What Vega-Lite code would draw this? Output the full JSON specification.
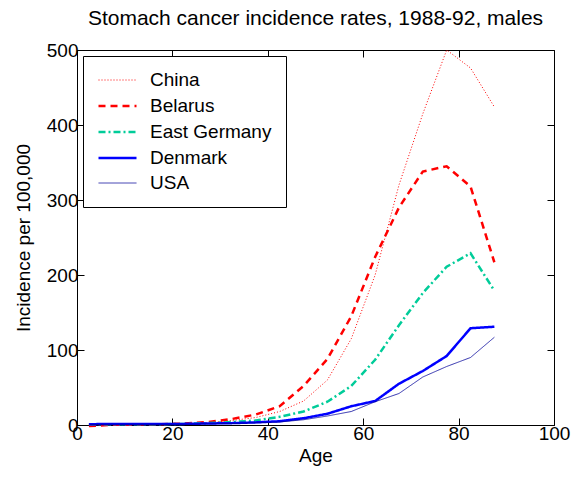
{
  "$schema": "https://vega.github.io/schema/vega-lite/v6.json",
  "width": 477,
  "height": 375,
  "autosize": {"type": "none"},
  "padding": {"left": 77, "top": 50, "right": 18, "bottom": 54},
  "background": "white",
  "config": {
    "font": "Liberation Sans",
    "view": {"stroke": "black", "strokeWidth": 1},
    "axis": {
      "grid": false,
      "domainColor": "black",
      "tickColor": "black",
      "tickSize": -7,
      "tickWidth": 1,
      "labelFont": "Liberation Sans",
      "labelFontSize": 19,
      "labelColor": "black",
      "titleFont": "Liberation Sans",
      "titleFontSize": 19,
      "titleFontWeight": "normal",
      "titleColor": "black"
    },
    "legend": {
      "orient": "none",
      "legendX": 6,
      "legendY": 6,
      "fillColor": "white",
      "strokeColor": "black",
      "padding": 14,
      "symbolType": "M-1,0H3",
      "symbolSize": 361,
      "labelFont": "Liberation Sans",
      "labelFontSize": 19,
      "labelColor": "black",
      "labelOffset": 31,
      "rowPadding": 5,
      "symbolOpacity": 1
    }
  },
  "title": {
    "text": "Stomach cancer incidence rates, 1988-92, males",
    "font": "Liberation Sans",
    "fontSize": 21,
    "fontWeight": "normal",
    "color": "black",
    "anchor": "middle",
    "offset": 12
  },
  "data": {
    "values": [
      {"age": 2.5, "country": "China", "rate": 0.2},
      {"age": 7.5, "country": "China", "rate": 0.3},
      {"age": 12.5, "country": "China", "rate": 0.5},
      {"age": 17.5, "country": "China", "rate": 0.8},
      {"age": 22.5, "country": "China", "rate": 1.5},
      {"age": 27.5, "country": "China", "rate": 3},
      {"age": 32.5, "country": "China", "rate": 6},
      {"age": 37.5, "country": "China", "rate": 10},
      {"age": 42.5, "country": "China", "rate": 18},
      {"age": 47.5, "country": "China", "rate": 32},
      {"age": 52.5, "country": "China", "rate": 60},
      {"age": 57.5, "country": "China", "rate": 115},
      {"age": 62.5, "country": "China", "rate": 200},
      {"age": 67.5, "country": "China", "rate": 320},
      {"age": 72.5, "country": "China", "rate": 415},
      {"age": 77.5, "country": "China", "rate": 500},
      {"age": 82.5, "country": "China", "rate": 476},
      {"age": 87.5, "country": "China", "rate": 424},
      {"age": 2.5, "country": "Belarus", "rate": -1.5},
      {"age": 7.5, "country": "Belarus", "rate": 0.3},
      {"age": 12.5, "country": "Belarus", "rate": 0.5},
      {"age": 17.5, "country": "Belarus", "rate": 1},
      {"age": 22.5, "country": "Belarus", "rate": 2},
      {"age": 27.5, "country": "Belarus", "rate": 4},
      {"age": 32.5, "country": "Belarus", "rate": 8},
      {"age": 37.5, "country": "Belarus", "rate": 14},
      {"age": 42.5, "country": "Belarus", "rate": 25},
      {"age": 47.5, "country": "Belarus", "rate": 52},
      {"age": 52.5, "country": "Belarus", "rate": 88},
      {"age": 57.5, "country": "Belarus", "rate": 145},
      {"age": 62.5, "country": "Belarus", "rate": 224},
      {"age": 67.5, "country": "Belarus", "rate": 290},
      {"age": 72.5, "country": "Belarus", "rate": 338},
      {"age": 77.5, "country": "Belarus", "rate": 345},
      {"age": 82.5, "country": "Belarus", "rate": 318},
      {"age": 87.5, "country": "Belarus", "rate": 217},
      {"age": 2.5, "country": "East Germany", "rate": 1},
      {"age": 7.5, "country": "East Germany", "rate": 1},
      {"age": 12.5, "country": "East Germany", "rate": 1},
      {"age": 17.5, "country": "East Germany", "rate": 1},
      {"age": 22.5, "country": "East Germany", "rate": 1.5},
      {"age": 27.5, "country": "East Germany", "rate": 2.5},
      {"age": 32.5, "country": "East Germany", "rate": 4},
      {"age": 37.5, "country": "East Germany", "rate": 6},
      {"age": 42.5, "country": "East Germany", "rate": 11},
      {"age": 47.5, "country": "East Germany", "rate": 18},
      {"age": 52.5, "country": "East Germany", "rate": 31},
      {"age": 57.5, "country": "East Germany", "rate": 52},
      {"age": 62.5, "country": "East Germany", "rate": 87},
      {"age": 67.5, "country": "East Germany", "rate": 133},
      {"age": 72.5, "country": "East Germany", "rate": 176},
      {"age": 77.5, "country": "East Germany", "rate": 211},
      {"age": 82.5, "country": "East Germany", "rate": 229},
      {"age": 87.5, "country": "East Germany", "rate": 179},
      {"age": 2.5, "country": "Denmark", "rate": 1},
      {"age": 7.5, "country": "Denmark", "rate": 1.5},
      {"age": 12.5, "country": "Denmark", "rate": 1.5},
      {"age": 17.5, "country": "Denmark", "rate": 1.5},
      {"age": 22.5, "country": "Denmark", "rate": 1.5},
      {"age": 27.5, "country": "Denmark", "rate": 2},
      {"age": 32.5, "country": "Denmark", "rate": 2.5},
      {"age": 37.5, "country": "Denmark", "rate": 3.5},
      {"age": 42.5, "country": "Denmark", "rate": 5},
      {"age": 47.5, "country": "Denmark", "rate": 9},
      {"age": 52.5, "country": "Denmark", "rate": 15},
      {"age": 57.5, "country": "Denmark", "rate": 25},
      {"age": 62.5, "country": "Denmark", "rate": 32},
      {"age": 67.5, "country": "Denmark", "rate": 55},
      {"age": 72.5, "country": "Denmark", "rate": 72},
      {"age": 77.5, "country": "Denmark", "rate": 92},
      {"age": 82.5, "country": "Denmark", "rate": 129},
      {"age": 87.5, "country": "Denmark", "rate": 131},
      {"age": 2.5, "country": "USA", "rate": 0.5},
      {"age": 7.5, "country": "USA", "rate": 1},
      {"age": 12.5, "country": "USA", "rate": 1},
      {"age": 17.5, "country": "USA", "rate": 1},
      {"age": 22.5, "country": "USA", "rate": 1},
      {"age": 27.5, "country": "USA", "rate": 1.5},
      {"age": 32.5, "country": "USA", "rate": 2},
      {"age": 37.5, "country": "USA", "rate": 3},
      {"age": 42.5, "country": "USA", "rate": 4},
      {"age": 47.5, "country": "USA", "rate": 7},
      {"age": 52.5, "country": "USA", "rate": 12},
      {"age": 57.5, "country": "USA", "rate": 18},
      {"age": 62.5, "country": "USA", "rate": 31},
      {"age": 67.5, "country": "USA", "rate": 42},
      {"age": 72.5, "country": "USA", "rate": 64},
      {"age": 77.5, "country": "USA", "rate": 78},
      {"age": 82.5, "country": "USA", "rate": 90},
      {"age": 87.5, "country": "USA", "rate": 117}
    ]
  },
  "layer": [
    {
      "mark": {"type": "line", "clip": false},
      "encoding": {
        "x": {"field": "age", "type": "quantitative", "scale": {"domain": [0, 100], "nice": false},
              "axis": {"orient": "bottom", "title": "Age", "values": [0, 20, 40, 60, 80, 100], "labelPadding": 6, "titlePadding": 3, "labelFlush": false}},
        "y": {"field": "rate", "type": "quantitative", "scale": {"domain": [0, 500], "nice": false},
              "axis": {"orient": "left", "title": "Incidence per 100,000", "values": [0, 100, 200, 300, 400, 500], "labelPadding": 6, "titlePadding": 13, "labelFlush": false}},
        "color": {"field": "country", "type": "nominal",
                  "scale": {"domain": ["China", "Belarus", "East Germany", "Denmark", "USA"], "range": ["#ff0000", "#ff0000", "#00cc99", "#0000ff", "#000099"]},
                  "legend": {"title": null}},
        "strokeDash": {"field": "country", "type": "nominal",
                  "scale": {"domain": ["China", "Belarus", "East Germany", "Denmark", "USA"], "range": [[1, 2], [7, 5], [7, 3, 2, 3], [1, 0], [1, 0]]},
                  "legend": {"title": null}},
        "strokeWidth": {"field": "country", "type": "ordinal",
                  "scale": {"type": "ordinal", "domain": ["China", "Belarus", "East Germany", "Denmark", "USA"], "range": [1, 2.5, 2.5, 2.5, 0.8]},
                  "legend": {"title": null}}
      }
    },
    {
      "mark": {"type": "point", "opacity": 0},
      "encoding": {
        "x": {"field": "age", "type": "quantitative", "scale": {"domain": [0, 100], "nice": false},
              "axis": {"orient": "top", "title": null, "labels": false, "domain": false, "values": [0, 20, 40, 60, 80, 100]}},
        "y": {"field": "rate", "type": "quantitative", "scale": {"domain": [0, 500], "nice": false},
              "axis": {"orient": "right", "title": null, "labels": false, "domain": false, "values": [0, 100, 200, 300, 400, 500]}}
      }
    }
  ],
  "resolve": {"axis": {"x": "independent", "y": "independent"}}
}
